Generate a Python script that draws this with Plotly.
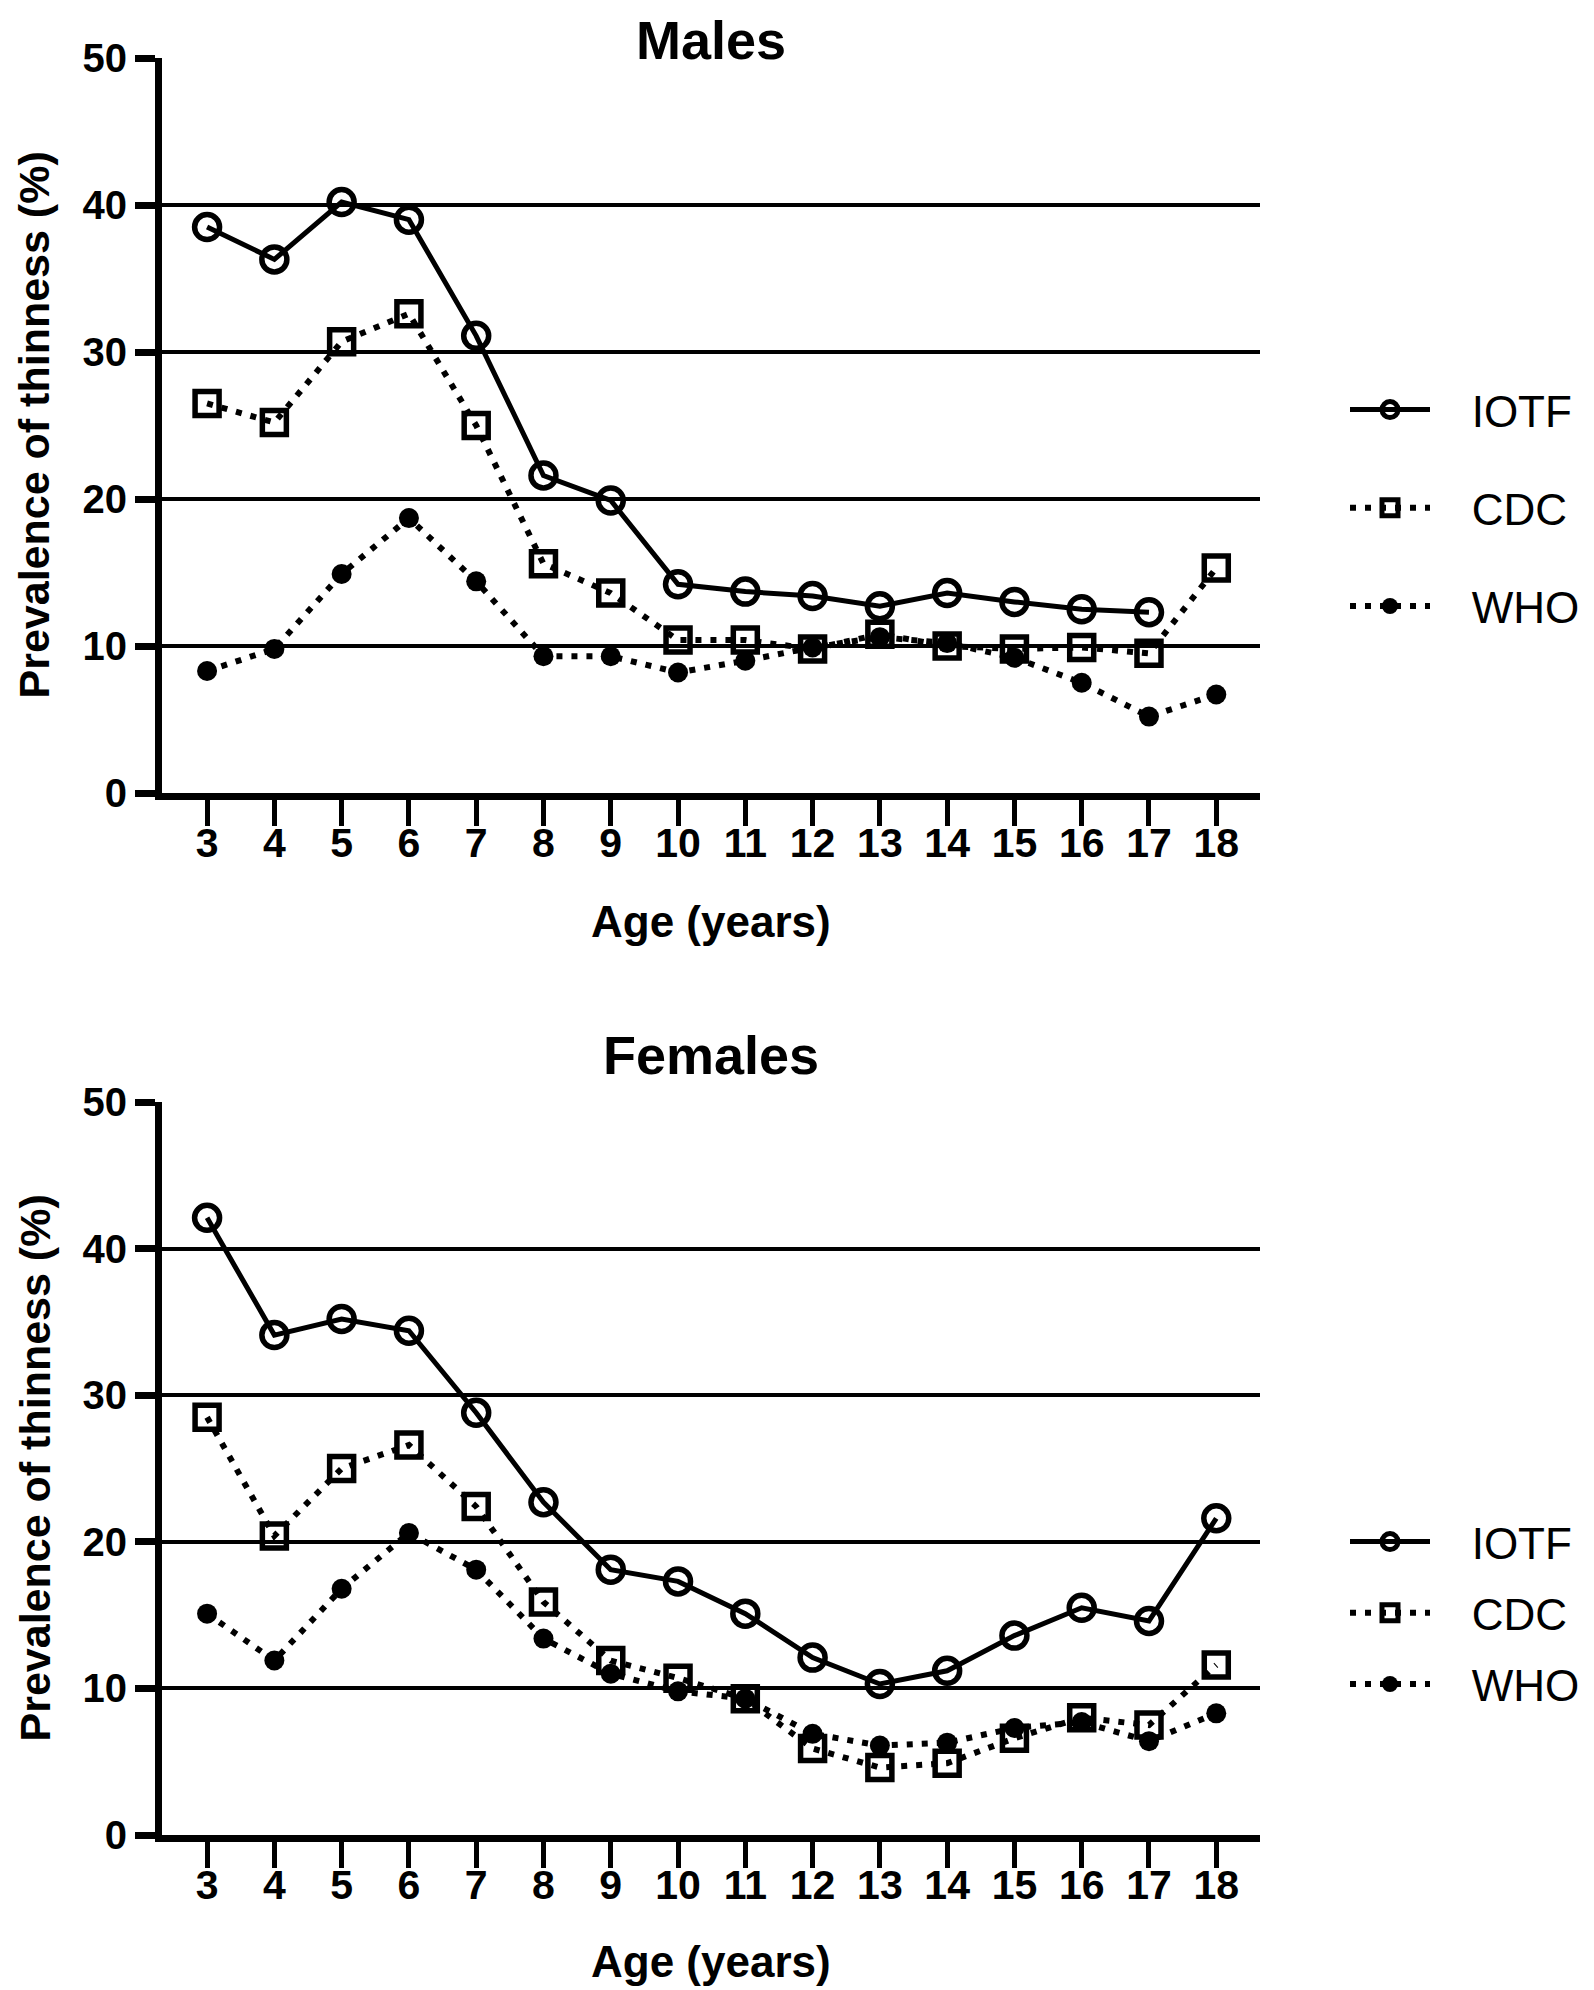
import plotly.graph_objects as go

# Prevalence of thinness (%) by age
ages = list(range(3, 19))

males_iotf = [38.5, 36.3, 40.2, 39.0, 31.1, 21.6, 19.9, 14.2, 13.7, 13.4, 12.7, 13.6, 13.0, 12.5, 12.3, None]
males_cdc = [26.5, 25.2, 30.7, 32.6, 25.0, 15.6, 13.6, 10.4, 10.4, 9.8, 10.8, 10.0, 9.8, 9.9, 9.5, 15.3]
males_who = [8.3, 9.8, 14.9, 18.7, 14.4, 9.3, 9.3, 8.2, 9.0, 9.9, 10.6, 10.2, 9.2, 7.5, 5.2, 6.7]

females_iotf = [42.1, 34.1, 35.2, 34.4, 28.8, 22.7, 18.1, 17.3, 15.1, 12.1, 10.3, 11.2, 13.6, 15.5, 14.6, 21.6]
females_cdc = [28.5, 20.4, 25.0, 26.6, 22.4, 15.9, 11.9, 10.7, 9.3, 5.9, 4.6, 4.9, 6.6, 8.0, 7.5, 11.6]
females_who = [15.1, 11.9, 16.8, 20.6, 18.1, 13.4, 11.0, 9.8, 9.3, 6.9, 6.1, 6.3, 7.3, 7.7, 6.4, 8.3]

y_ticks = [0, 10, 20, 30, 40, 50]
panel_titles = ["Males", "Females"]
series_names = ["IOTF", "CDC", "WHO"]
x_title = "Age (years)"
y_title = "Prevalence of thinness (%)"

FONT = "Liberation Sans, Arial, sans-serif"
DOT = "6px,9px"
PAD = "\u00a0\u00a0\u00a0"  # extra room between legend symbol and label

# page size and the 8px body margin of the html page
W, H = 1594, 1990
BODY = 8
FW, FH = W - BODY, H - BODY


def px(x):
    """screen x (px) -> paper fraction"""
    return (x - BODY) / FW


def py(y):
    """screen y (px) -> paper fraction"""
    return 1 - (y - BODY) / FH


styles = {
    "IOTF": dict(line=dict(color="black", width=5),
                 marker=dict(symbol="circle-open", size=25, color="black", line=dict(width=5.5))),
    "CDC": dict(line=dict(color="black", width=6, dash=DOT),
                marker=dict(symbol="square-open", size=24, color="black", line=dict(width=5.5))),
    "WHO": dict(line=dict(color="black", width=6, dash=DOT),
                marker=dict(symbol="circle", size=20, color="black")),
}

fig = go.Figure()

panels = [
    ("x", "y", "legend", [males_iotf, males_cdc, males_who]),
    ("x2", "y2", "legend2", [females_iotf, females_cdc, females_who]),
]

for xa, ya, leg, data in panels:
    for name, values in zip(series_names, data):
        fig.add_trace(go.Scatter(
            x=ages, y=values, name=PAD + name, mode="lines+markers",
            xaxis=xa, yaxis=ya, legend=leg, legendgroup=leg + name,
            cliponaxis=False, connectgaps=False,
            **styles[name]
        ))

x_dom = [px(162), px(1260)]
top_dom = [py(793), py(58)]
bot_dom = [py(1835), py(1102)]

xaxis_common = dict(
    range=[2.33, 18.65], tickvals=ages, ticktext=[str(a) for a in ages],
    showline=True, linewidth=7, linecolor="black", ticks="outside", ticklen=26,
    tickwidth=5, tickcolor="black", showgrid=False, zeroline=False,
    tickfont=dict(family=FONT, size=41, color="black", weight="bold"),
    ticklabelstandoff=-18,
    domain=x_dom, automargin=False, fixedrange=True,
)
yaxis_common = dict(
    range=[0, 50], tickvals=y_ticks, showline=True, linewidth=7, linecolor="black",
    ticks="outside", ticklen=20, tickwidth=7, tickcolor="black",
    showgrid=True, gridcolor="black", gridwidth=3.5, zeroline=False,
    tickfont=dict(family=FONT, size=40, color="black", weight="bold"),
    automargin=False, fixedrange=True,
)

fig.update_layout(
    width=FW, height=FH,
    margin=dict(l=0, r=0, t=0, b=0, autoexpand=False),
    paper_bgcolor="white", plot_bgcolor="white",
    xaxis=dict(xaxis_common, anchor="y"),
    xaxis2=dict(xaxis_common, anchor="y2"),
    yaxis=dict(yaxis_common, domain=top_dom, anchor="x"),
    yaxis2=dict(yaxis_common, domain=bot_dom, anchor="x2"),
    legend=dict(x=px(1345), xanchor="left", y=py(508), yanchor="middle",
                font=dict(family=FONT, size=44, color="black"), tracegroupgap=38,
                itemwidth=80, bgcolor="rgba(0,0,0,0)"),
    legend2=dict(x=px(1345), xanchor="left", y=py(1613), yanchor="middle",
                 font=dict(family=FONT, size=44, color="black"), tracegroupgap=11,
                 itemwidth=80, bgcolor="rgba(0,0,0,0)"),
    showlegend=True,
)

x_mid = (x_dom[0] + x_dom[1]) / 2
for text, dom, top in zip(panel_titles, [top_dom, bot_dom], [True, False]):
    if top:
        fig.add_annotation(
            text=text, xref="paper", yref="paper", x=x_mid, y=1,
            xanchor="center", yanchor="top", showarrow=False,
            font=dict(family=FONT, size=54, color="black", weight="bold"),
        )
    else:
        fig.add_annotation(
            text=text, xref="paper", yref="paper", x=x_mid, y=py(1055),
            xanchor="center", yanchor="middle", showarrow=False,
            font=dict(family=FONT, size=54, color="black", weight="bold"),
        )
    fig.add_annotation(
        text=y_title, xref="paper", yref="paper", x=0, y=(dom[0] + dom[1]) / 2,
        xanchor="left", yanchor="middle", showarrow=False, textangle=-90,
        font=dict(family=FONT, size=43, color="black", weight="bold"),
    )

for xty in [py(922), py(1961)]:
    fig.add_annotation(
        text=x_title, xref="paper", yref="paper", x=x_mid, y=xty,
        xanchor="center", yanchor="middle", showarrow=False,
        font=dict(family=FONT, size=44, color="black", weight="bold"),
    )

fig.write_html("out.html")
